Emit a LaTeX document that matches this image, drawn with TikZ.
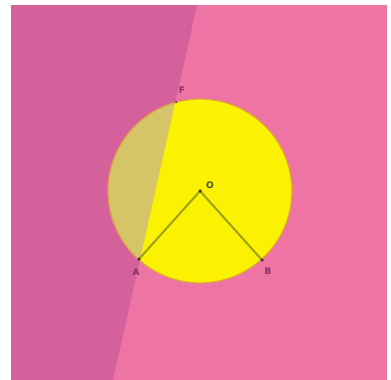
\documentclass[tikz,border=0pt]{standalone}
\usepackage{fontspec}
\setmainfont{DejaVu Sans}
\begin{document}
\begin{tikzpicture}[x=1pt,y=-1pt,
  lbl/.style={font=\fontsize{9}{9}\selectfont\bfseries, text=labcol, inner sep=0pt},
  seg/.style={draw=segcol, line width=2pt},
  pt/.style={fill=black!80, circle, inner sep=0pt, minimum size=3.5pt}]
\definecolor{bgpink}{HTML}{EE74A4}
\definecolor{bgdark}{HTML}{D4609C}
\definecolor{disk}{HTML}{FAF200}
\definecolor{khaki}{HTML}{D6C468}
\definecolor{rim}{HTML}{E0A040}
\definecolor{segcol}{HTML}{A0A018}
\definecolor{labcol}{HTML}{8A2E6A}
\useasboundingbox (0,0) rectangle (391,380);
\fill[white] (0,0) rectangle (391,380);
\fill[bgpink] (11,5) rectangle (387,380);
\fill[bgdark] (11,5) -- (197,5) -- (113,380) -- (11,380) -- cycle;
\coordinate (O) at (200,191);
\coordinate (A) at (139,259);
\coordinate (B) at (262,260);
\coordinate (F) at (176,102);
\fill[disk] (O) circle (92);
\begin{scope}
  \clip (O) circle (92);
  \fill[khaki] (11,5) -- (197,5) -- (113,380) -- (11,380) -- cycle;
\end{scope}
\draw[rim, line width=1.2pt] (O) circle (92);
\draw[seg] (A) -- (O) -- (B);
\node[pt] (o) at (O) {};
\node[pt] (a) at (A) {};
\node[pt] (b) at (B) {};
\node[pt, fill=labcol, minimum size=2.5pt] (f) at (F) {};
\node[lbl, text=black!70!yellow!60!black] (lo) at (210,185) {O};
\node[lbl] (la) at (136,272) {A};
\node[lbl] (lb) at (268,271) {B};
\node[lbl] (lf) at (182,90) {F};
\end{tikzpicture}
\end{document}
